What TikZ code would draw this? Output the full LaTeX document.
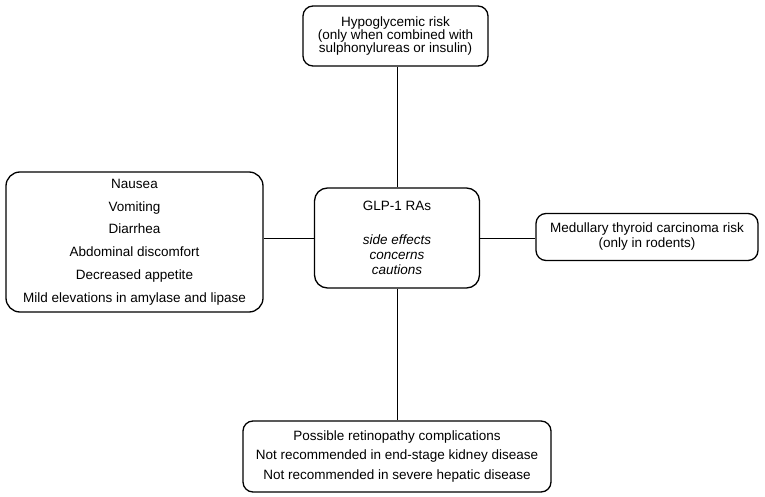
\documentclass[tikz,border=0pt]{standalone}
\usepackage{fontspec}
\setmainfont{Liberation Sans}
\begin{document}
\begin{tikzpicture}[x=1pt,y=-1pt,
  box/.style={draw, line width=1.3pt, rounded corners=10pt, align=center, inner sep=0pt},
  conn/.style={draw, line width=1pt}]
\useasboundingbox (0,0) rectangle (765,497);
\node[box, minimum width=185pt, minimum height=60pt, font=\fontsize{13.5}{13}\selectfont] (top) at (395.5,36)
  {Hypoglycemic risk\\(only when combined with\\sulphonylureas or insulin)};
\node[box, rounded corners=13pt, minimum width=165pt, minimum height=100pt, font=\fontsize{13.5}{15}\selectfont] (glp) at (397,238)
  {GLP-1 RAs\\[19pt]\itshape side effects\\\itshape concerns\\\itshape cautions};
\node[box, rounded corners=14pt, minimum width=257pt, minimum height=140pt, font=\fontsize{13.5}{22.8}\selectfont] (left) at (134.5,242)
  {Nausea\\Vomiting\\Diarrhea\\Abdominal discomfort\\Decreased appetite\\Mild elevations in amylase and lipase};
\node[box, minimum width=222pt, minimum height=47pt, font=\fontsize{13.5}{15}\selectfont] (right) at (647,237)
  {Medullary thyroid carcinoma risk\\(only in rodents)};
\node[box, minimum width=308pt, minimum height=71pt, font=\fontsize{13.5}{19.5}\selectfont] (bot) at (397,456.5)
  {Possible retinopathy complications\\Not recommended in end-stage kidney disease\\Not recommended in severe hepatic disease};
\draw[conn] (glp.north) -- (glp.north |- top.south);
\draw[conn] (glp.south) -- (glp.south |- bot.north);
\draw[conn] (glp.west) -- (glp.west -| left.east);
\draw[conn] (glp.east) -- (glp.east -| right.west);
\end{tikzpicture}
\end{document}
